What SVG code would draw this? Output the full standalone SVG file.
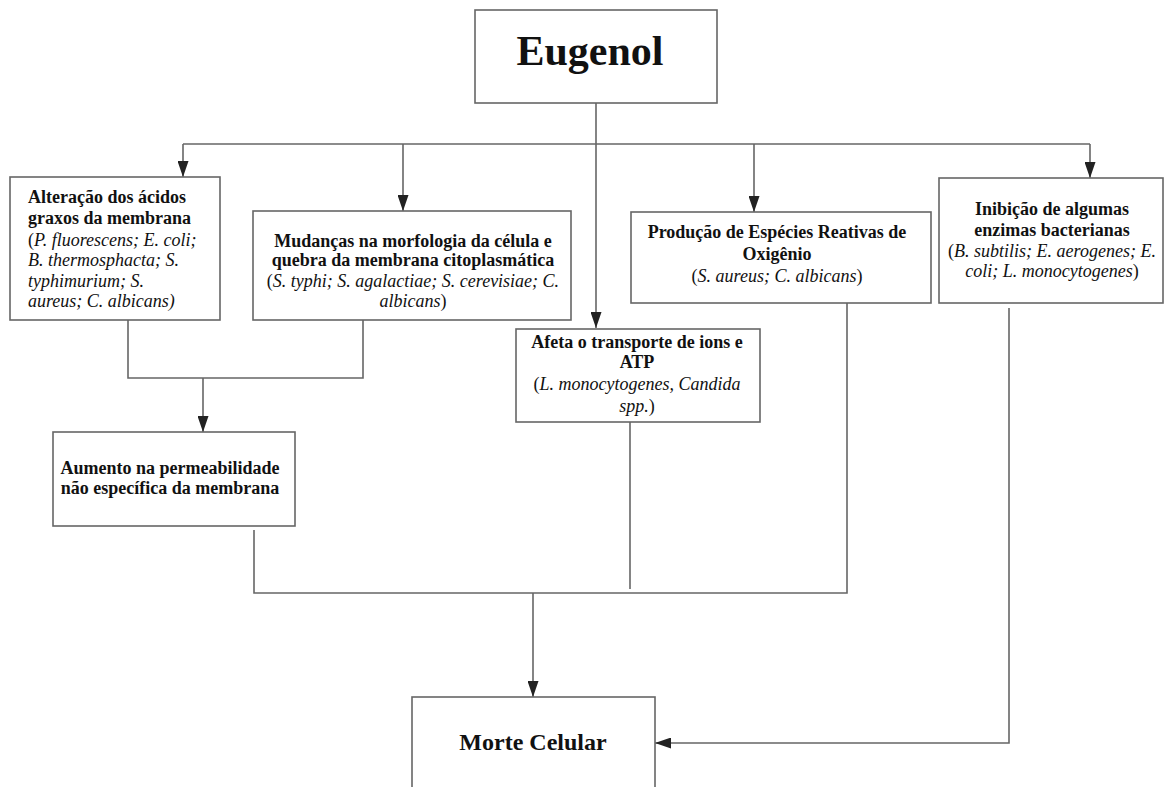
<svg xmlns="http://www.w3.org/2000/svg" width="1165" height="787" viewBox="0 0 1165 787">
<style>
.box{fill:#fff;stroke:#666;stroke-width:1.6}
.ln{fill:none;stroke:#666;stroke-width:1.6}
text{font-family:"Liberation Serif","Times New Roman",serif;fill:#111;font-size:18px}
.b{font-weight:bold}
.i{font-style:italic}
.c{text-anchor:middle}
</style>
<defs>
<marker id="ah" viewBox="0 0 16 11" markerWidth="16" markerHeight="11" refX="16" refY="5.5" orient="auto" markerUnits="userSpaceOnUse">
<path d="M0,0 L16,5.5 L0,11 Z" fill="#222"/>
</marker>
</defs>
<rect width="1165" height="787" fill="#fff"/>
<g id="connectors">
<line class="ln" x1="596" y1="103" x2="596" y2="328" marker-end="url(#ah)"/>
<line class="ln" x1="183" y1="144" x2="1090" y2="144"/>
<line class="ln" x1="183" y1="144" x2="183" y2="177" marker-end="url(#ah)"/>
<line class="ln" x1="403" y1="144" x2="403" y2="211" marker-end="url(#ah)"/>
<line class="ln" x1="754" y1="144" x2="754" y2="212" marker-end="url(#ah)"/>
<line class="ln" x1="1090" y1="144" x2="1090" y2="178" marker-end="url(#ah)"/>
<polyline class="ln" points="128,320 128,378 363,378 363,320"/>
<line class="ln" x1="203" y1="378" x2="203" y2="432" marker-end="url(#ah)"/>
<polyline class="ln" points="254,530 254,593 847,593 847,303"/>
<line class="ln" x1="630" y1="422" x2="630" y2="589"/>
<line class="ln" x1="533" y1="593" x2="533" y2="697" marker-end="url(#ah)"/>
<polyline class="ln" points="1009,308 1009,743 655,743" marker-end="url(#ah)"/>
</g>
<g id="eugenol">
<rect class="box" x="475" y="10" width="242" height="93"/>
<text class="b c" x="590" y="65" style="font-size:42px">Eugenol</text>
</g>
<g id="alteracao">
<rect class="box" x="10" y="177" width="210" height="143"/>
<text class="b" x="28" y="203">Alteração dos ácidos</text>
<text class="b" x="28" y="224">graxos da membrana</text>
<text x="28" y="246">(<tspan class="i">P. fluorescens; E. coli;</tspan></text>
<text class="i" x="28" y="266">B. thermosphacta; S.</text>
<text class="i" x="28" y="287">typhimurium; S.</text>
<text class="i" x="28" y="307">aureus; C. albicans)</text>
</g>
<g id="mudancas">
<rect class="box" x="253" y="211" width="318" height="109"/>
<text class="b c" x="413" y="247">Mudanças na morfologia da célula e</text>
<text class="b c" x="413" y="266">quebra da membrana citoplasmática</text>
<text class="c" x="413" y="287">(<tspan class="i">S. typhi; S. agalactiae; S. cerevisiae; C.</tspan></text>
<text class="c" x="413" y="307"><tspan class="i">albicans</tspan>)</text>
</g>
<g id="producao">
<rect class="box" x="631" y="212" width="300" height="91"/>
<text class="b c" x="777" y="238">Produção de Espécies Reativas de</text>
<text class="b c" x="777" y="260">Oxigênio</text>
<text class="c" x="777" y="282">(<tspan class="i">S. aureus; C. albicans</tspan>)</text>
</g>
<g id="inibicao">
<rect class="box" x="939" y="178" width="224" height="125"/>
<text class="b c" x="1052" y="215">Inibição de algumas</text>
<text class="b c" x="1052" y="236">enzimas bacterianas</text>
<text class="c" x="1052" y="257">(<tspan class="i">B. subtilis; E. aerogenes; E.</tspan></text>
<text class="c" x="1052" y="277"><tspan class="i">coli; L. monocytogenes</tspan>)</text>
</g>
<g id="afeta">
<rect class="box" x="516" y="329" width="244" height="93"/>
<text class="b c" x="637" y="348">Afeta o transporte de ions e</text>
<text class="b c" x="637" y="368">ATP</text>
<text class="c" x="637" y="390">(<tspan class="i">L. monocytogenes, Candida</tspan></text>
<text class="c" x="637" y="412"><tspan class="i">spp.</tspan>)</text>
</g>
<g id="aumento">
<rect class="box" x="53" y="432" width="242" height="94"/>
<text class="b c" x="170" y="474">Aumento na permeabilidade</text>
<text class="b c" x="170" y="494">não específica da membrana</text>
</g>
<g id="morte">
<rect class="box" x="412" y="697" width="243" height="110"/>
<text class="b c" x="533" y="750" style="font-size:24px">Morte Celular</text>
</g>
</svg>
